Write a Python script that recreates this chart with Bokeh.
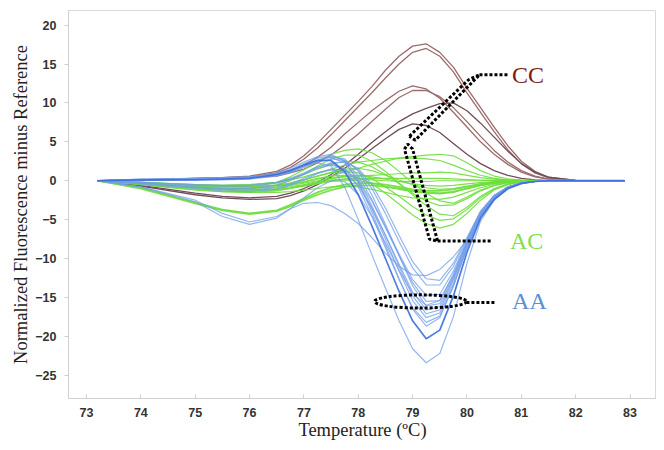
from bokeh.plotting import figure
from bokeh.models import Range1d, FixedTicker
from bokeh.embed import file_html
from bokeh.resources import INLINE
from bokeh.core.properties import value

# ---------------- data ----------------
temps = [73.2, 74.0, 75.0, 75.5, 76.0, 76.5, 76.75, 77.0, 77.25, 77.5, 77.75, 78.0, 78.25, 78.5,
         78.75, 79.0, 79.25, 79.5, 79.75, 80.0, 80.25, 80.5, 80.75, 81.0, 81.25, 81.5, 82.0, 82.9]

# CC genotype curves (brown)
cc_1 = [0, 0.1, 0.3, 0.4, 0.6, 1.2, 2.0, 3.2, 4.8, 6.6, 8.4, 10.2, 12.1, 14.2, 16.0, 17.3, 17.6, 16.5, 14.6, 11.9, 9.4, 6.9, 4.5, 2.5, 1.2, 0.45, 0.05, 0]
cc_2 = [0, 0.1, 0.3, 0.4, 0.5, 1.0, 1.7, 2.8, 4.2, 5.9, 7.7, 9.5, 11.3, 13.2, 15.0, 16.5, 17.0, 16.0, 14.0, 11.3, 8.8, 6.3, 4.0, 2.2, 1.0, 0.35, 0.05, 0]
cc_3 = [0, 0.1, 0.2, 0.3, 0.4, 0.8, 1.3, 2.0, 3.0, 4.3, 6.0, 7.5, 9.0, 10.3, 11.5, 12.2, 11.8, 10.6, 8.8, 6.9, 5.0, 3.4, 2.1, 1.1, 0.5, 0.2, 0, 0]
cc_4 = [0, 0.1, 0.2, 0.3, 0.4, 0.6, 1.0, 1.5, 2.3, 3.3, 4.6, 6.0, 7.6, 9.2, 10.7, 11.6, 11.6, 10.8, 9.4, 7.6, 5.7, 3.9, 2.4, 1.3, 0.6, 0.2, 0, 0]
cc_5 = [0, -0.6, -1.6, -2.0, -2.2, -2.0, -1.6, -1.0, -0.2, 0.8, 2.0, 3.4, 4.9, 6.3, 7.6, 8.6, 9.3, 9.9, 10.0, 9.0, 7.4, 5.6, 3.8, 2.2, 1.1, 0.45, 0.05, 0]
cc_6 = [0, -0.7, -1.8, -2.2, -2.4, -2.3, -1.9, -1.3, -0.5, 0.5, 1.6, 2.8, 4.1, 5.4, 6.6, 7.3, 7.1, 6.2, 4.8, 3.4, 2.2, 1.3, 0.7, 0.3, 0.1, 0, 0, 0]

# AC genotype curves (green)
ac_1 = [0, -0.4, -0.9, -1.0, -0.9, -0.2, 0.5, 1.4, 2.5, 3.4, 3.9, 4.1, 3.6, 2.6, 1.2, -0.3, -1.6, -2.6, -2.9, -2.1, -1.2, -0.6, -0.25, -0.08, 0, 0, 0, 0]
ac_2 = [0, -0.3, -0.8, -1.0, -1.0, -0.5, 0.1, 0.9, 1.9, 2.8, 3.3, 3.3, 2.5, 1.2, -0.3, -1.8, -3.2, -4.3, -4.5, -3.4, -2.0, -1.0, -0.4, -0.12, 0, 0, 0, 0]
ac_3 = [0, -0.3, -0.6, -0.7, -0.7, -0.6, -0.4, -0.2, 0.2, 0.6, 1.1, 1.6, 2.1, 2.5, 2.9, 3.1, 3.3, 3.4, 3.2, 2.3, 1.3, 0.6, 0.25, 0.08, 0, 0, 0, 0]
ac_4 = [0, -0.2, -0.5, -0.6, -0.5, -0.2, 0.1, 0.5, 1.0, 1.5, 2.0, 2.4, 2.6, 2.8, 2.9, 2.9, 2.8, 2.6, 2.0, 1.3, 0.7, 0.3, 0.12, 0.04, 0, 0, 0, 0]
ac_5 = [0, -0.3, -0.7, -0.9, -0.9, -0.8, -0.6, -0.3, 0.0, 0.3, 0.5, 0.6, 0.7, 0.8, 0.9, 1.0, 1.0, 1.1, 1.0, 0.7, 0.4, 0.2, 0.08, 0.02, 0, 0, 0, 0]
ac_6 = [0, -0.4, -0.9, -1.1, -1.2, -1.1, -0.9, -0.6, -0.3, 0.0, 0.2, 0.3, 0.3, 0.3, 0.3, 0.3, 0.3, 0.3, 0.25, 0.15, 0.08, 0.04, 0.01, 0, 0, 0, 0, 0]
ac_7 = [0, -0.5, -1.2, -1.4, -1.5, -1.3, -1.0, -0.6, -0.2, 0.1, 0.2, 0.2, 0.1, 0.0, -0.1, -0.1, -0.1, 0.0, 0.0, 0, 0, 0, 0, 0, 0, 0, 0, 0]
ac_8 = [0, -0.3, -0.8, -1.0, -1.1, -1.0, -0.8, -0.5, -0.1, 0.3, 0.6, 0.7, 0.5, 0.2, -0.1, -0.4, -0.6, -0.7, -0.6, -0.4, -0.25, -0.1, -0.04, 0, 0, 0, 0, 0]
ac_9 = [0, -0.2, -0.6, -0.8, -0.8, -0.6, -0.3, 0.1, 0.6, 1.1, 1.5, 1.6, 1.3, 0.7, 0.1, -0.5, -0.9, -1.1, -1.0, -0.7, -0.4, -0.2, -0.06, 0, 0, 0, 0, 0]
ac_10 = [0, -0.4, -1.0, -1.2, -1.3, -1.2, -1.0, -0.7, -0.4, -0.1, 0.1, 0.0, -0.3, -0.7, -1.1, -1.4, -1.6, -1.7, -1.5, -1.0, -0.6, -0.3, -0.1, -0.03, 0, 0, 0, 0]
ac_11 = [0, -0.5, -1.1, -1.4, -1.5, -1.5, -1.4, -1.2, -1.0, -0.8, -0.7, -0.8, -1.1, -1.5, -1.9, -2.2, -2.3, -2.4, -2.1, -1.5, -0.9, -0.45, -0.15, -0.05, 0, 0, 0, 0]
ac_12 = [0, -0.2, -0.5, -0.6, -0.5, -0.2, 0.2, 0.8, 1.5, 2.1, 2.5, 2.4, 1.8, 0.8, -0.4, -1.6, -2.6, -3.2, -3.1, -2.3, -1.3, -0.65, -0.25, -0.08, 0, 0, 0, 0]
ac_13 = [0, -0.3, -0.7, -0.8, -0.8, -0.6, -0.3, 0.1, 0.6, 1.0, 1.2, 1.0, 0.3, -0.8, -2.0, -3.3, -4.4, -5.1, -4.9, -3.7, -2.2, -1.1, -0.45, -0.15, 0, 0, 0, 0]
ac_14 = [0, -0.3, -0.8, -1.0, -1.0, -0.8, -0.5, -0.1, 0.3, 0.6, 0.7, 0.4, -0.4, -1.6, -3.0, -4.4, -5.5, -6.1, -5.6, -4.2, -2.5, -1.2, -0.5, -0.15, 0, 0, 0, 0]
ac_15 = [0, -1.0, -2.9, -3.8, -4.3, -3.9, -3.3, -2.5, -1.8, -1.2, -0.8, -0.6, -0.6, -0.8, -1.0, -1.3, -1.5, -1.6, -1.4, -1.0, -0.6, -0.3, -0.1, -0.03, 0, 0, 0, 0]
ac_16 = [0, -0.9, -2.8, -3.7, -4.2, -3.8, -3.1, -2.3, -1.5, -0.9, -0.5, -0.3, -0.3, -0.5, -0.8, -1.1, -1.3, -1.3, -1.1, -0.8, -0.45, -0.2, -0.07, 0, 0, 0, 0, 0]

# AA genotype curves (blue)
aa_1 = [0, 0.2, 0.3, 0.4, 0.5, 0.9, 1.4, 1.9, 2.3, 1.9, -0.8, -5.0, -9.5, -13.8, -18.0, -21.6, -23.4, -22.2, -17.5, -10.6, -5.2, -2.5, -1.1, -0.4, -0.1, 0, 0, 0]
aa_2 = [0, 0.1, 0.1, 0.2, 0.3, 0.8, 1.3, 2.0, 2.6, 2.6, 1.2, -1.8, -5.8, -10.0, -14.2, -18.0, -20.3, -19.2, -14.8, -9.2, -4.8, -2.4, -1.0, -0.35, -0.1, 0, 0, 0]
aa_3 = [0, 0.1, 0.2, 0.3, 0.4, 1.0, 1.6, 2.4, 3.1, 3.4, 2.5, -0.2, -4.0, -8.3, -12.6, -16.5, -18.7, -17.6, -13.5, -8.6, -4.5, -2.2, -0.9, -0.3, -0.1, 0, 0, 0]
aa_4 = [0, -0.2, -0.5, -0.6, -0.6, -0.2, 0.3, 1.0, 1.8, 2.2, 1.5, -0.8, -4.5, -8.6, -12.7, -16.3, -18.2, -17.4, -13.6, -8.7, -4.6, -2.2, -0.9, -0.3, -0.1, 0, 0, 0]
aa_5 = [0, -0.3, -0.8, -1.0, -1.0, -0.6, 0.0, 0.8, 1.6, 2.0, 1.6, -0.2, -3.6, -7.5, -11.6, -15.4, -17.6, -17.0, -13.2, -8.5, -4.5, -2.2, -0.9, -0.3, -0.1, 0, 0, 0]
aa_6 = [0, 0.1, 0.2, 0.3, 0.4, 0.8, 1.3, 2.0, 2.7, 3.0, 2.3, 0.2, -3.2, -7.0, -11.0, -14.8, -17.1, -16.6, -12.8, -8.3, -4.4, -2.1, -0.85, -0.3, -0.1, 0, 0, 0]
aa_7 = [0, -0.3, -0.9, -1.1, -1.2, -0.9, -0.4, 0.3, 1.0, 1.4, 1.0, -0.6, -3.5, -7.0, -10.7, -14.3, -16.6, -16.2, -12.6, -8.2, -4.3, -2.1, -0.85, -0.3, -0.1, 0, 0, 0]
aa_8 = [0, 0.0, 0.1, 0.1, 0.2, 0.6, 1.1, 1.8, 2.6, 3.1, 2.8, 1.2, -1.8, -5.6, -9.6, -13.5, -16.1, -15.8, -12.4, -8.0, -4.2, -2.0, -0.8, -0.3, -0.1, 0, 0, 0]
aa_9 = [0, -0.4, -1.0, -1.3, -1.4, -1.1, -0.6, 0.1, 0.9, 1.5, 1.4, 0.0, -2.6, -6.0, -9.6, -13.1, -15.5, -15.4, -12.2, -7.9, -4.1, -2.0, -0.8, -0.3, -0.1, 0, 0, 0]
aa_10 = [0, 0.1, 0.2, 0.3, 0.4, 0.7, 1.1, 1.7, 2.4, 2.8, 2.6, 1.4, -1.0, -4.2, -7.8, -11.2, -13.4, -13.4, -11.0, -7.5, -4.0, -1.9, -0.8, -0.3, -0.1, 0, 0, 0]
aa_11 = [0, -0.2, -0.6, -0.7, -0.7, -0.3, 0.2, 0.9, 1.7, 2.3, 2.4, 1.6, -0.5, -3.5, -7.0, -10.4, -12.6, -12.8, -10.6, -7.3, -3.9, -1.9, -0.8, -0.3, -0.1, 0, 0, 0]
aa_12 = [0, -0.8, -2.5, -4.2, -5.3, -4.6, -3.6, -2.9, -2.8, -3.2, -4.2, -5.5, -7.3, -9.3, -11.0, -12.1, -12.2, -11.4, -9.8, -7.6, -4.6, -2.4, -1.0, -0.35, -0.1, 0, 0, 0]
aa_13 = [0, -0.8, -2.7, -4.6, -5.6, -4.8, -3.6, -2.2, -0.9, 0.0, -0.1, -1.8, -4.6, -8.0, -11.5, -14.5, -16.0, -15.4, -12.0, -7.8, -4.1, -2.0, -0.8, -0.3, -0.1, 0, 0, 0]
aa_14 = [0, 0.2, 0.3, 0.4, 0.5, 0.9, 1.4, 2.2, 2.9, 3.2, 2.6, 0.6, -2.4, -5.9, -9.4, -12.7, -14.7, -14.6, -11.6, -7.7, -4.0, -1.9, -0.8, -0.3, -0.1, 0, 0, 0]

x_ticks = [73, 74, 75, 76, 77, 78, 79, 80, 81, 82, 83]
y_ticks = [-25, -20, -15, -10, -5, 0, 5, 10, 15, 20]
group_labels = ["CC", "AC", "AA"]

# annotation shapes (data units)
cc_loop_x = [78.94, 80.03, 80.23, 79.05, 78.94]
cc_loop_y = [5.72, 12.98, 13.61, 5.22, 5.72]
cc_lead_x = [80.23, 80.75]
cc_lead_y = [13.61, 13.61]
ac_loop_x = [78.85, 78.91, 79.00, 79.46, 79.31, 78.85]
ac_loop_y = [4.07, 4.71, 4.07, -7.76, -7.51, 4.07]
ac_lead_x = [79.46, 80.47]
ac_lead_y = [-7.76, -7.76]
aa_ell = (79.145, -15.52, 1.69, 1.70)
aa_lead_x = [79.99, 80.53]
aa_lead_y = [-15.65, -15.65]
label_pos_x = [80.83, 80.79, 80.83]
label_pos_y = [13.61, -7.76, -15.40]

# ---------------- figure ----------------
p = figure(width=656, height=442, output_backend="svg", toolbar_location=None,
           x_range=Range1d(72.669, 83.487), y_range=Range1d(-27.99, 21.88),
           min_border_left=68, min_border_right=0, min_border_top=10, min_border_bottom=40)
p.grid.visible = False
p.outline_line_color = "#d9d9d9"
p.background_fill_color = "white"
p.border_fill_color = "white"

for ax in (p.xaxis[0], p.yaxis[0]):
    ax.axis_line_color = "#d0d0d0"
    ax.major_tick_line_color = "#d0d0d0"
    ax.minor_tick_line_color = None
    ax.major_label_text_font = "Liberation Sans"
    ax.major_label_text_font_size = "12.5px"
    ax.major_label_text_font_style = "bold"
    ax.major_label_text_color = "#333333"
    ax.axis_label_text_font = "Liberation Serif"
    ax.axis_label_text_font_size = "18.5px"
    ax.axis_label_text_font_style = "normal"
    ax.axis_label_text_color = "#222222"

p.xaxis.ticker = FixedTicker(ticks=x_ticks)
p.yaxis.ticker = FixedTicker(ticks=y_ticks)
p.xaxis.major_tick_in = 4
p.xaxis.major_tick_out = 0
p.yaxis.major_tick_in = 0
p.yaxis.major_tick_out = 4
p.xaxis.major_label_standoff = 9
p.yaxis.major_label_standoff = 8
p.xaxis.axis_label = "Temperature (ºC)"
p.yaxis.axis_label = "Normalized Fluorescence minus Reference"
p.xaxis.axis_label_standoff = 0
p.yaxis.axis_label_standoff = 1

brown = "#9a6c6c"
brown_dark = "#704c5a"
green = "#6ede3c"
blue = "#729de8"
blue_dark = "#3b6ddc"

for c in [cc_1, cc_2, cc_3, cc_4]:
    p.line(temps, c, line_color=brown, line_width=1.3, line_join="round")
for c in [cc_5, cc_6]:
    p.line(temps, c, line_color=brown_dark, line_width=1.3, line_join="round")

for c in [ac_1, ac_2, ac_3, ac_4, ac_5, ac_6, ac_7, ac_8, ac_9, ac_10, ac_11, ac_12, ac_13, ac_14]:
    p.line(temps, c, line_color=green, line_width=1.2, line_alpha=0.9, line_join="round")
for c in [ac_15, ac_16]:
    p.line(temps, c, line_color=green, line_width=1.8, line_alpha=0.9, line_join="round")

for c in [aa_1, aa_3, aa_4, aa_5, aa_6, aa_7, aa_8, aa_9, aa_10, aa_11, aa_12, aa_13, aa_14]:
    p.line(temps, c, line_color=blue, line_width=1.2, line_alpha=0.75, line_join="round")
p.line(temps, aa_2, line_color=blue_dark, line_width=1.7, line_alpha=0.9, line_join="round")

# annotations
dot = dict(line_color="black", line_width=3, line_dash="3 2")
p.line(cc_loop_x, cc_loop_y, **dot)
p.line(cc_lead_x, cc_lead_y, **dot)
p.line(ac_loop_x, ac_loop_y, **dot)
p.line(ac_lead_x, ac_lead_y, **dot)
p.ellipse(x=[aa_ell[0]], y=[aa_ell[1]], width=[aa_ell[2]], height=[aa_ell[3]],
          fill_alpha=0, **dot)
p.line(aa_lead_x, aa_lead_y, **dot)

label_colors = ["#7a1c1c", "#80e04c", "#5b8ed6"]
for i in range(3):
    p.text(x=[label_pos_x[i]], y=[label_pos_y[i]], text=[group_labels[i]],
           text_font=value("Liberation Serif"), text_font_size="24px",
           text_color=label_colors[i], text_baseline="middle", text_align="left")

open("out.html", "w").write(file_html(p, INLINE))
